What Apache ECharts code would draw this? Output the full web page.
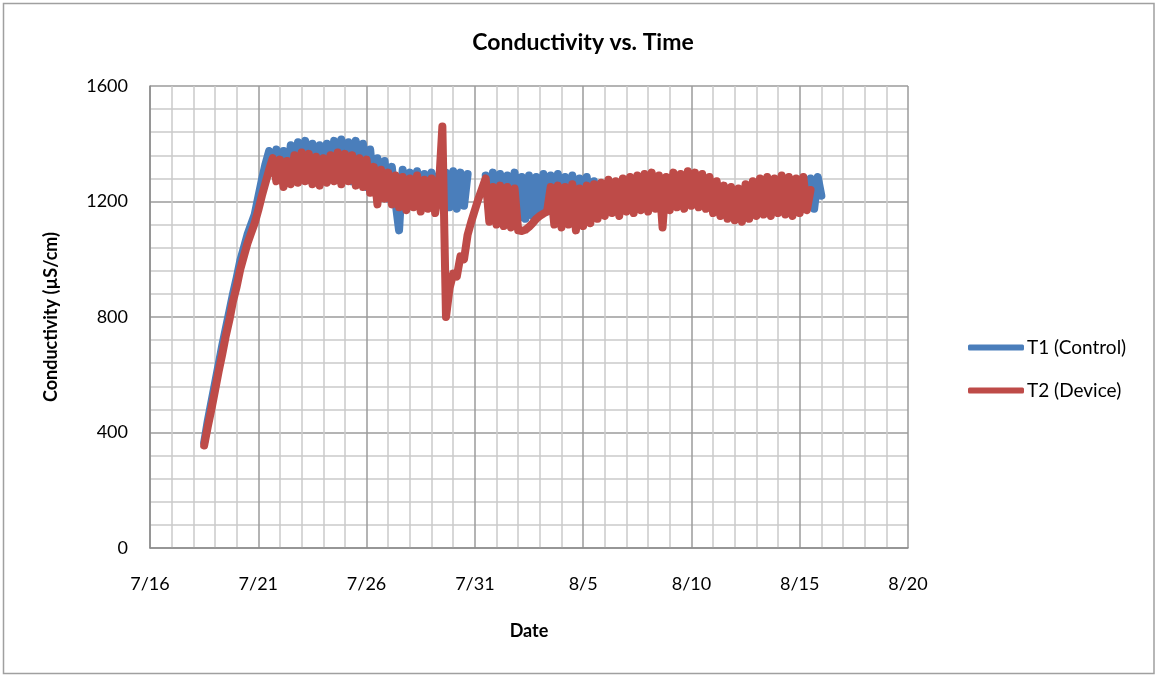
<!DOCTYPE html>
<html>
<head>
<meta charset="utf-8">
<title>Conductivity vs. Time</title>
<script src="https://cdn.jsdelivr.net/npm/echarts@6/dist/echarts.min.js"></script>
<style>
  html, body { margin: 0; padding: 0; background: #fff; }
  #chart { width: 1156px; height: 676px; }
</style>
</head>
<body>
<div id="chart"></div>
<script>
// days counted from 7/16, one reading every 4 hours starting 7/18 12:00
var startDay = 2.5;
var stepDay = 1 / 6;

var dateLabels = ['7/16', '7/21', '7/26', '7/31', '8/5', '8/10', '8/15', '8/20'];
var seriesNames = ['T1 (Control)', 'T2 (Device)'];

// T1 (Control), uS/cm
var t1Values = [
  365, 440, 505, 570, 635, 700, 760, 820, 880, 935,
  995, 1040, 1085, 1120, 1155, 1215, 1275, 1330, 1375, 1300,
  1380, 1285, 1375, 1280, 1395, 1290, 1405, 1285, 1410, 1280,
  1400, 1270, 1395, 1275, 1400, 1285, 1410, 1280, 1415, 1275,
  1405, 1270, 1410, 1265, 1400, 1250, 1380, 1240, 1350, 1220,
  1340, 1210, 1320, 1200, 1100, 1310, 1195, 1300, 1190, 1305,
  1185, 1295, 1190, 1300, 1180, 1290, 1190, 1300, 1180, 1305,
  1175, 1300, 1185, 1295, null, null, null, null, 1290, 1160,
  1300, 1170, 1295, 1150, 1290, 1145, 1300, 1140, 1285, 1140,
  1290, 1150, 1285, 1160, 1295, 1165, 1290, 1150, 1295, 1140,
  1285, 1150, 1290, 1130, 1280, 1145, 1285, 1150, 1270, 1150,
  1255, 1160, 1265, 1170, 1260, 1160, 1270, 1175, 1275, 1170,
  1280, 1180, 1285, 1175, 1290, 1185, 1280, 1170, 1275, 1180,
  1290, 1190, 1285, 1185, 1295, 1195, 1290, 1190, 1285, 1185,
  1275, 1170, 1260, 1160, 1245, 1150, 1240, 1145, 1235, 1140,
  1250, 1150, 1260, 1160, 1270, 1165, 1275, 1160, 1270, 1170,
  1280, 1165, 1275, 1160, 1270, 1170, 1275, 1180, 1280, 1175,
  1285, 1220
];

// T2 (Device), uS/cm
var t2Values = [
  355, 420, 480, 545, 610, 670, 735, 790, 855, 905,
  965, 1010, 1055, 1090, 1125, 1170, 1220, 1265, 1310, 1350,
  1270, 1345, 1250, 1340, 1260, 1360, 1265, 1370, 1270, 1365,
  1260, 1355, 1255, 1350, 1265, 1360, 1270, 1370, 1260, 1365,
  1270, 1360, 1255, 1350, 1250, 1345, 1230, 1320, 1190, 1310,
  1210, 1300, 1190, 1290, 1180, 1285, 1170, 1280, 1180, 1290,
  1165, 1275, 1175, 1280, 1160, 1240, 1460, 800, 900, 950,
  940, 1010, 1000, 1085, 1130, 1170, 1210, 1245, 1280, 1130,
  1250, 1120, 1255, 1115, 1250, 1110, 1245, 1100, 1098, 1102,
  1112, 1125, 1140, 1150, 1158, 1165, 1250, 1120, 1255, 1110,
  1250, 1120, 1260, 1100, 1245, 1115, 1255, 1125, 1260, 1140,
  1265, 1150, 1275, 1160, 1270, 1150, 1280, 1165, 1285, 1160,
  1290, 1170, 1295, 1165, 1300, 1175, 1290, 1110, 1285, 1170,
  1300, 1180, 1295, 1175, 1305, 1185, 1300, 1180, 1295, 1175,
  1285, 1160, 1270, 1150, 1255, 1140, 1250, 1135, 1245, 1130,
  1260, 1140, 1270, 1150, 1280, 1155, 1285, 1150, 1280, 1160,
  1290, 1155, 1285, 1150, 1280, 1160, 1285, 1170, 1240
];

function toPairs(values) {
  return values.map(function (v, i) {
    return [startDay + i * stepDay, v];
  });
}

var fontName = 'Lato, "Open Sans", sans-serif';
var chart = echarts.init(document.getElementById('chart'), null, { renderer: 'canvas' });

var option = {
  backgroundColor: '#ffffff',
  animation: false,
  textStyle: { fontFamily: fontName },
  title: {
    text: 'Conductivity vs. Time',
    left: 578,
    textAlign: 'center',
    top: 26,
    textStyle: { fontFamily: fontName, fontSize: 23, fontWeight: 'bold', color: '#000' }
  },
  legend: {
    orient: 'vertical',
    left: 963,
    top: 333,
    icon: 'roundRect',
    itemWidth: 56,
    itemHeight: 6,
    itemGap: 24,
    data: seriesNames,
    textStyle: { fontFamily: fontName, fontSize: 19, color: '#000', padding: [0, 0, 0, -2] }
  },
  graphic: [{
    type: 'rect',
    shape: { x: 3.5, y: 3.5, width: 1150.5, height: 670 },
    style: { fill: 'none', stroke: '#a0a0a0', lineWidth: 1.5 },
    silent: true
  }],
  grid: { left: 150, right: 248, top: 86, bottom: 128 },
  xAxis: {
    type: 'value',
    min: 0,
    max: 35,
    interval: 5,
    name: 'Date',
    nameLocation: 'middle',
    nameGap: 74,
    nameTextStyle: { fontFamily: fontName, fontSize: 18, fontWeight: 'bold', color: '#000' },
    axisLine: { show: true, lineStyle: { color: '#8c8c8c', width: 1.5 } },
    axisTick: { show: false },
    axisLabel: {
      margin: 27,
      fontSize: 18,
      color: '#000',
      formatter: function (v) { return dateLabels[Math.round(v / 5)]; }
    },
    splitLine: { show: true, lineStyle: { color: '#9b9b9b', width: 1.5 } },
    minorTick: { show: false, splitNumber: 5 },
    minorSplitLine: { show: true, lineStyle: { color: '#cacaca', width: 1.5 } }
  },
  yAxis: {
    type: 'value',
    min: 0,
    max: 1600,
    interval: 400,
    name: 'Conductivity (µS/cm)',
    nameLocation: 'middle',
    nameGap: 90,
    nameTextStyle: { fontFamily: fontName, fontSize: 18, fontWeight: 'bold', color: '#000' },
    axisLine: { show: true, lineStyle: { color: '#8c8c8c', width: 1.5 } },
    axisTick: { show: false },
    axisLabel: {
      margin: 22,
      fontSize: 18,
      color: '#000',
      formatter: function (v) { return String(v); }
    },
    splitLine: { show: true, lineStyle: { color: '#9b9b9b', width: 1.5 } },
    minorTick: { show: false, splitNumber: 5 },
    minorSplitLine: { show: true, lineStyle: { color: '#cacaca', width: 1.5 } }
  },
  series: [
    {
      name: seriesNames[0],
      type: 'line',
      symbol: 'none',
      connectNulls: false,
      color: '#4a7ebb',
      lineStyle: { width: 8, color: '#4a7ebb', cap: 'round', join: 'round' },
      data: toPairs(t1Values)
    },
    {
      name: seriesNames[1],
      type: 'line',
      symbol: 'none',
      color: '#be4b48',
      lineStyle: { width: 8, color: '#be4b48', cap: 'round', join: 'round' },
      data: toPairs(t2Values)
    }
  ]
};

chart.setOption(option);
window.onresize = function () { chart.resize(); };
</script>
</body>
</html>
